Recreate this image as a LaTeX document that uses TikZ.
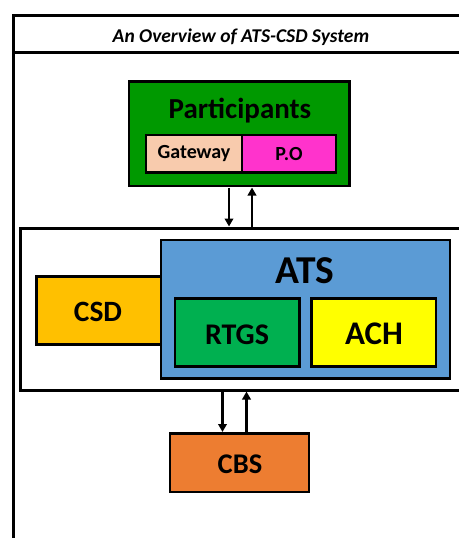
\documentclass[tikz,border=0pt]{standalone}
\usepackage{fontspec}
\setmainfont{Carlito}
\usetikzlibrary{arrows.meta}
\definecolor{partgreen}{HTML}{009900}
\definecolor{gatepeach}{HTML}{F8CBAD}
\definecolor{pomag}{HTML}{FF33CC}
\definecolor{atsblue}{HTML}{5B9BD5}
\definecolor{csdgold}{HTML}{FFC000}
\definecolor{rtgsgreen}{HTML}{00B050}
\definecolor{achyellow}{HTML}{FFFF00}
\definecolor{cbsorange}{HTML}{ED7D31}
\tikzset{
  x=1pt, y=-1pt,
  boxstyle/.style={draw=black, line width=2.6pt},
  frame/.style={draw=black, line width=3pt},
  flow/.style={draw=black, line width=2.3pt, -{Triangle[width=8.5pt,length=8pt]}},
  lbl/.style={font=\bfseries, text=black, inner sep=0pt}
}
\begin{document}
\begin{tikzpicture}
\useasboundingbox (0,0) rectangle (458,538);
% outer frame (cropped)
\draw[frame] (13.5,545) -- (13.5,15.5) -- (470,15.5);
\draw[frame] (13.5,52) -- (470,52);
\node[inner sep=0pt, font=\fontsize{19.5}{22}\selectfont\bfseries\itshape] (title) at (241,37) {An Overview of ATS-CSD System};
% participants
\path[boxstyle, fill=partgreen] (129,81.5) rectangle (349.5,186) coordinate (pbr);
\node[lbl, font=\fontsize{29}{32}\selectfont\bfseries] (part) at (240,111) {Participants};
\path[boxstyle, fill=gatepeach] (146,135) rectangle (242,172.5);
\path[boxstyle, fill=pomag] (242,135) rectangle (336,172.5);
\node[lbl, font=\fontsize{20}{22}\selectfont\bfseries] (gate) at (194,154) {Gateway};
\node[lbl, font=\fontsize{20}{22}\selectfont\bfseries] (po) at (289,154) {P.O};
\coordinate (partbot) at (240,187.5);
% system box
\draw[frame] (470,228) -- (20,228) -- (20,390) -- (470,390);
\coordinate (systop) at (240,226.5);
\coordinate (sysbot) at (240,391.5);
% CSD behind ATS
\path[boxstyle, fill=csdgold] (36.5,276.5) rectangle (162,344.5);
\node[lbl, font=\fontsize{29.5}{32}\selectfont\bfseries] (csd) at (98,312) {CSD};
\path[boxstyle, fill=atsblue] (161,240) rectangle (450,378.5);
\node[lbl, font=\fontsize{39.5}{42}\selectfont\bfseries] (ats) at (305,271) {ATS};
\path[boxstyle, fill=rtgsgreen] (175,298.5) rectangle (299.5,366.5);
\node[lbl, font=\fontsize{30}{32}\selectfont\bfseries] (rtgs) at (237,334.5) {RTGS};
\path[boxstyle, fill=achyellow] (311.5,298.5) rectangle (436,366.5);
\node[lbl, font=\fontsize{33}{36}\selectfont\bfseries] (ach) at (374,334) {ACH};
% CBS
\path[boxstyle, fill=cbsorange] (170,433.5) rectangle (309,492);
\node[lbl, font=\fontsize{28.5}{30}\selectfont\bfseries] (cbs) at (240,464) {CBS};
\coordinate (cbstop) at (240,432);
% arrows
\draw[flow] (partbot -| 229,0) -- (systop -| 229,0);
\draw[flow] (systop -| 252,0) -- (partbot -| 252,0);
\draw[flow] (sysbot -| 222.5,0) -- (cbstop -| 222.5,0);
\draw[flow] (cbstop -| 246.5,0) -- (sysbot -| 246.5,0);
\end{tikzpicture}
\end{document}
